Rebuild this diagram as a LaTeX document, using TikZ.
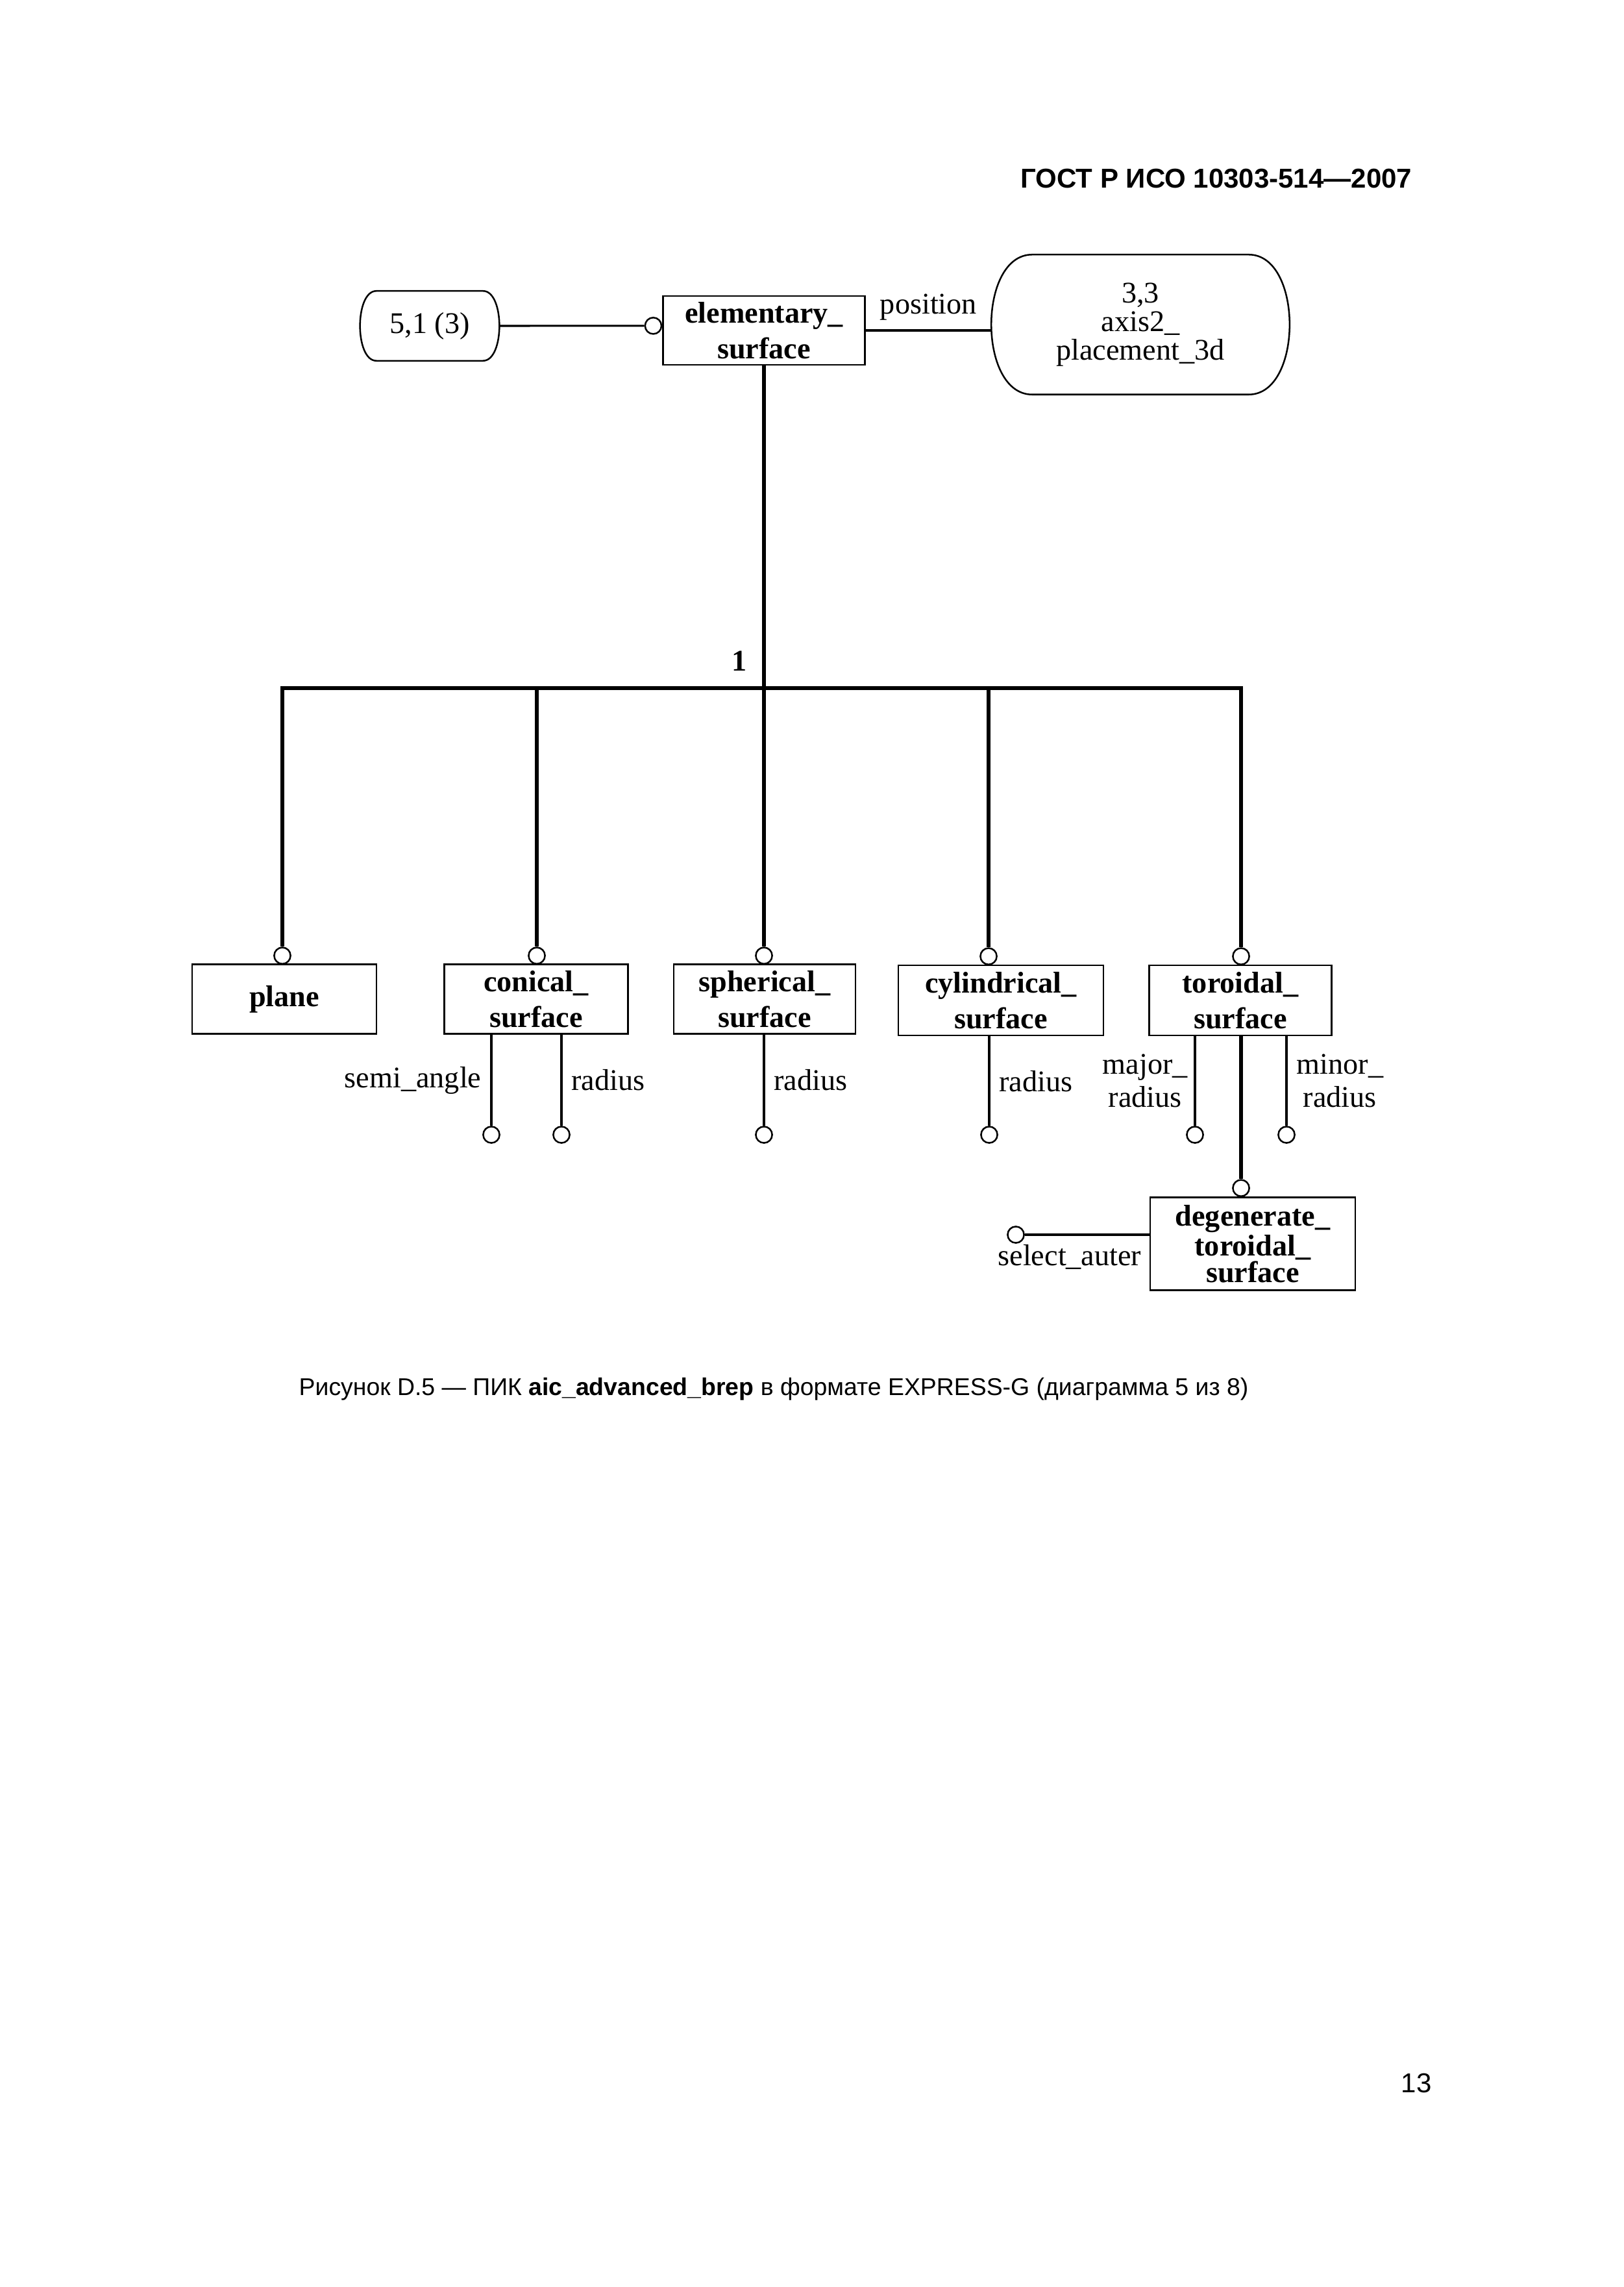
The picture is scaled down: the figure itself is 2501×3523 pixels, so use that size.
\documentclass[tikz,border=0pt]{standalone}
\usepackage{fontspec}
\setmainfont{Liberation Serif}
\newfontfamily\arialfont{Liberation Sans}
\usetikzlibrary{positioning}

\begin{document}
\begin{tikzpicture}[x=0.238pt,y=-0.238pt,
  ent/.style={draw,line width=0.6pt,inner sep=0pt,align=center,font=\fontsize{11}{13}\selectfont\bfseries},
  pref/.style={inner sep=0pt,align=center,font=\fontsize{11}{10.5}\selectfont},
  oc/.style={draw,circle,line width=0.6pt,minimum size=6pt,inner sep=0pt},
  rel/.style={line width=1.3pt},
  attr/.style={line width=0.75pt},
  lbl/.style={align=center,font=\fontsize{11}{12.2}\selectfont}]
\useasboundingbox[fill=white] (0,0) rectangle (2501,3523);

\node[font=\arialfont\bfseries\fontsize{10}{12}\selectfont,anchor=east] (hdr) at (2190,275) {ГОСТ Р ИСО 10303-514—2007};

% top row
\node[pref,minimum width=50.7pt,minimum height=25.2pt] (r51) at (662,502) {5,1 (3)};
\node[ent,minimum width=74pt,minimum height=25.2pt] (elem) at (1177,509) {elementary\_\\surface};
\node[pref,minimum width=109pt,minimum height=50.9pt] (r33) at (1757,500) {3,3\\axis2\_\\placement\_3d};
\draw[line width=0.6pt] ([xshift=6pt]r51.north west) -- ([xshift=-6pt]r51.north east)
  .. controls ([xshift=2pt]r51.north east) and ([xshift=2pt]r51.south east) .. ([xshift=-6pt]r51.south east)
  -- ([xshift=6pt]r51.south west)
  .. controls ([xshift=-2pt]r51.south west) and ([xshift=-2pt]r51.north west) .. cycle;
\draw[line width=0.6pt] ([xshift=15pt]r33.north west) -- ([xshift=-15pt]r33.north east)
  .. controls ([xshift=5pt]r33.north east) and ([xshift=5pt]r33.south east) .. ([xshift=-15pt]r33.south east)
  -- ([xshift=15pt]r33.south west)
  .. controls ([xshift=-5pt]r33.south west) and ([xshift=-5pt]r33.north west) .. cycle;
\node[oc,anchor=east] (ce) at ([yshift=1.7pt]elem.west) {};
\draw[attr] (r51) -- (ce);
\draw[attr] (elem.east) -- node[lbl,above] (pos) {position} (elem.east -| r33.west);

% subtypes
\node[ent,minimum width=67.6pt,minimum height=25.5pt] (plane) at (438,1539) {plane};
\node[ent,minimum width=67.4pt,minimum height=25.5pt] (conical) at (826,1539) {conical\_\\surface};
\node[ent,minimum width=66.6pt,minimum height=25.5pt] (spherical) at (1178,1539) {spherical\_\\surface};
\node[ent,minimum width=75.2pt,minimum height=25.7pt] (cylindrical) at (1542,1541) {cylindrical\_\\surface};
\node[ent,minimum width=66.9pt,minimum height=25.7pt] (toroidal) at (1911,1541) {toroidal\_\\surface};
\node[ent,minimum width=75.2pt,minimum height=34pt,font=\fontsize{11}{9.6}\selectfont\bfseries] (degen) at (1930,1916) {degenerate\_\\toroidal\_\\surface};

\node[oc,anchor=south] (cpl) at (435,1486) {};
\node[oc,anchor=south] (ccn) at (827,1486) {};
\node[oc,anchor=south] (csp) at (1177,1486) {};
\node[oc,anchor=south] (ccy) at (1523,1487) {};
\node[oc,anchor=south] (cto) at (1912,1487) {};
\node[oc,anchor=south] (cdg) at (1912,1844) {};

\coordinate (bus) at (1177,1060);
\draw[rel] (elem.south) -- (bus);
\draw[rel] (cpl) |- (bus) -| (cto);
\foreach \c in {ccn,csp,ccy}
  \draw[rel] (\c) -- (\c |- bus);
\node[font=\fontsize{11}{13}\selectfont\bfseries] (one) at (1139,1018) {1};
\draw[rel] (toroidal.south -| cdg) -- (cdg);

% attributes
\node[oc] (a1) at (757,1748) {};
\node[oc] (a2) at (865,1748) {};
\node[oc] (a3) at (1177,1748) {};
\node[oc] (a4) at (1524,1748) {};
\node[oc] (a5) at (1841,1748) {};
\node[oc] (a6) at (1982,1748) {};
\node[oc] (asa) at (1565,1902) {};
\draw[attr] (conical.south -| a1) -- node[lbl,left] (t1) {semi\_angle} (a1);
\draw[attr] (conical.south -| a2) -- node[lbl,right] (t2) {radius} (a2);
\draw[attr] (spherical.south -| a3) -- node[lbl,right] (t3) {radius} (a3);
\draw[attr] (cylindrical.south -| a4) -- node[lbl,right] (t4) {radius} (a4);
\draw[attr] (toroidal.south -| a5) -- node[lbl,left,xshift=1pt] (t5) {major\_\\radius} (a5);
\draw[attr] (toroidal.south -| a6) -- node[lbl,right] (t6) {minor\_\\radius} (a6);
\draw[attr] (asa) -- node[lbl,below,pos=0.36] (t7) {select\_auter} (asa -| degen.west);

\node[font=\arialfont\fontsize{8.9}{11}\selectfont] (cap) at (1192,2140) {Рисунок D.5 — ПИК \textbf{aic\_advanced\_brep} в формате EXPRESS-G (диаграмма 5 из 8)};
\node[font=\arialfont\fontsize{10}{12}\selectfont] (pg) at (2182,3209) {13};
\end{tikzpicture}
\end{document}
